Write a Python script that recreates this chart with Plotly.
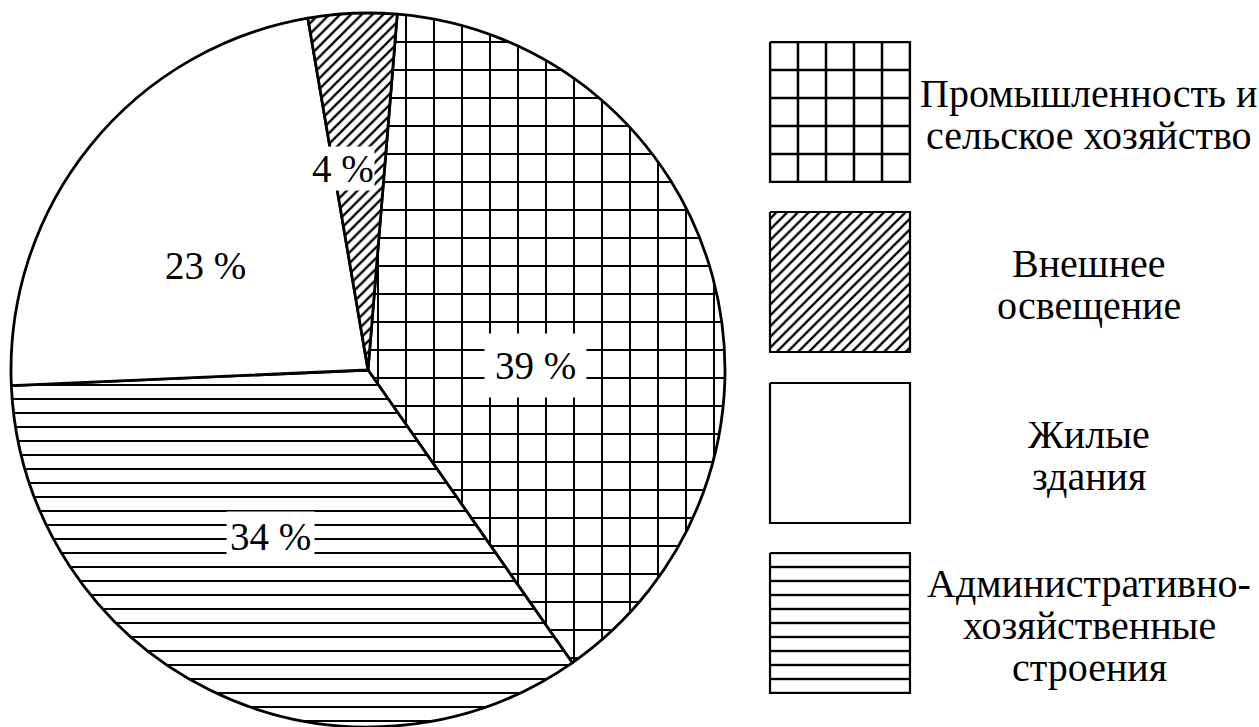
import math
import plotly.graph_objects as go

W, H = 1259, 727

# ---- data ----
categories = [
    "Промышленность и сельское хозяйство",
    "Административно-хозяйственные строения",
    "Жилые здания",
    "Внешнее освещение",
]
label_lines = [
    ["Промышленность и", "сельское хозяйство"],
    ["Административно-", "хозяйственные", "строения"],
    ["Жилые", "здания"],
    ["Внешнее", "освещение"],
]
values = [39, 34, 23, 4]
legend_order = [0, 3, 2, 1]

# ---- style ----
pattern_shapes = ["+", "-", "", "/"]
pattern_sizes = [28, 14, 10, 7.6]
pattern_solid = [0.1378, 0.143, 0.0, 0.3]
legend_solid = [0.17, 0.17, 0.0, 0.3]
label_bg = ["white", "white", "rgba(0,0,0,0)", "white"]
label_pad = [10, 3, 0, 0]
label_rfrac = [0.47, 0.54, 0.54, 0.57]
label_shift = [13.7, 4.1, -6.1, -4.6]

ROT = 4.7
FONT = "Liberation Serif, Times New Roman, serif"
FS = 39
LFS = 40
R = 357
CX = 368
dom_x = [(CX - R) / W, (CX + R) / W]
dom_y = [0, 2 * R / H]
CY = H - R

fig = go.Figure()
fig.add_trace(go.Pie(
    labels=categories, values=values, sort=False, direction="clockwise",
    rotation=ROT,
    marker=dict(colors=["white"] * 4, line=dict(color="black", width=2.8),
                pattern=dict(shape=pattern_shapes, size=pattern_sizes,
                             solidity=pattern_solid, fgcolor="black",
                             bgcolor="white", fgopacity=1)),
    textinfo="none", hoverinfo="skip", showlegend=False,
    domain=dict(x=dom_x, y=dom_y),
))

# percentage labels placed from the slice angles
total = sum(values)
cum = 0
annotations = []
for i, v in enumerate(values):
    mid = ROT + (cum + v / 2) / total * 360 + label_shift[i]
    cum += v
    r = label_rfrac[i] * R
    a = math.radians(mid)
    annotations.append(dict(
        x=CX + r * math.sin(a), y=CY - r * math.cos(a), xref="x", yref="y",
        text=f"{v} %", showarrow=False, xanchor="center", yanchor="middle",
        font=dict(family=FONT, size=FS, color="black"),
        bgcolor=label_bg[i], borderpad=label_pad[i],
    ))

# legend: patterned squares with centred captions
SQ_X0, SQ = 770, 140
LEG_Y0, LEG_STEP = 42, 170.33
TXT_X, LINE_H = 1089, 42
for k, idx in enumerate(legend_order):
    y0 = round(LEG_Y0 + LEG_STEP * k)
    x0 = SQ_X0
    fig.add_trace(go.Scatter(
        x=[x0, x0 + SQ, x0 + SQ, x0, x0], y=[y0, y0, y0 + SQ, y0 + SQ, y0],
        mode="lines", fill="toself", fillcolor="white",
        fillpattern=dict(shape=pattern_shapes[idx], size=pattern_sizes[idx],
                         solidity=legend_solid[idx], fgcolor="black",
                         bgcolor="white", fgopacity=1),
        line=dict(color="black", width=2.2), hoverinfo="skip", showlegend=False,
    ))
    lines = label_lines[idx]
    yc = y0 + SQ / 2 + 2
    n = len(lines)
    for j, t in enumerate(lines):
        annotations.append(dict(
            x=TXT_X, y=yc + (j - (n - 1) / 2) * LINE_H, xref="x", yref="y",
            text=t, showarrow=False, xanchor="center", yanchor="middle",
            font=dict(family=FONT, size=LFS, color="black"),
        ))

fig.update_layout(
    width=W, height=H, margin=dict(l=0, r=0, t=0, b=0),
    paper_bgcolor="white", plot_bgcolor="rgba(0,0,0,0)",
    xaxis=dict(range=[0, W], visible=False, fixedrange=True, domain=[0, 1]),
    yaxis=dict(range=[H, 0], visible=False, fixedrange=True, domain=[0, 1]),
    annotations=annotations,
)

fig.write_html(
    "out.html",
    config={"displayModeBar": False},
    post_script="document.body.style.margin='0';document.body.style.padding='0';"
                "document.body.style.overflow='hidden';",
)
